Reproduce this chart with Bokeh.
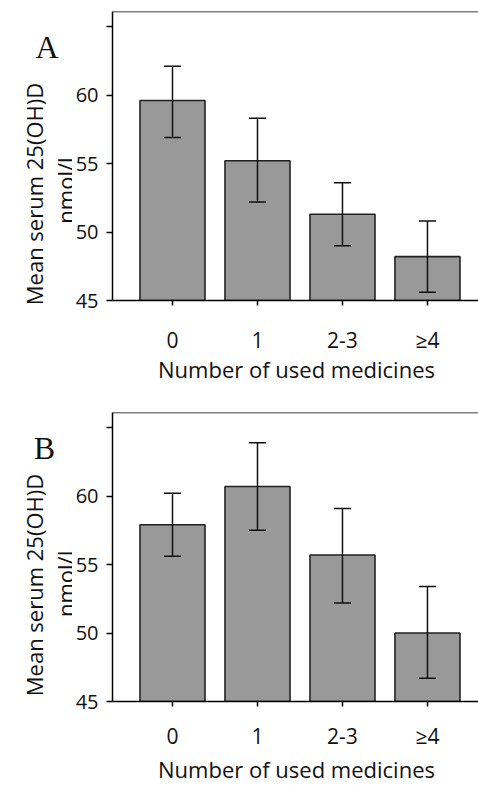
import math
from bokeh.plotting import figure
from bokeh.models import Range1d, FixedTicker, Label, ColumnDataSource, Span
from bokeh.layouts import column, row
from bokeh.embed import file_html
from bokeh.resources import INLINE

categories = ["0", "1", "2-3", "≥4"]
y_ticks = [45, 50, 55, 60, 65]

# Panel A
a_mean = [59.6, 55.2, 51.3, 48.2]
a_low = [56.9, 52.2, 49.0, 45.6]
a_high = [62.1, 58.3, 53.6, 50.8]

# Panel B
b_mean = [57.9, 60.7, 55.7, 50.0]
b_low = [55.6, 57.5, 52.2, 46.7]
b_high = [60.2, 63.9, 59.1, 53.4]

FONT = "Open Sans"
TICK_FS = "20px"
LAB_FS = "22px"
Y_TOP = 66.1
LEFT_W = 72
FRAME_H = 289


def make_panel(means, lows, highs, top_border, bottom_border,
               tick_standoff, label_standoff):
    xs = list(range(len(categories)))
    p = figure(frame_width=368, frame_height=FRAME_H, title=None,
               x_range=Range1d(-0.706, 3.624), y_range=Range1d(45, Y_TOP),
               output_backend="svg", toolbar_location=None,
               min_border_left=110 - LEFT_W, min_border_right=0,
               min_border_top=top_border, min_border_bottom=bottom_border)
    p.xgrid.visible = False
    p.ygrid.visible = False
    p.outline_line_color = None
    p.background_fill_color = "white"
    p.border_fill_color = "white"
    p.add_layout(Span(location=Y_TOP, dimension="width", line_color="black",
                      line_width=1.5))

    src = ColumnDataSource(dict(x=xs, top=means, low=lows, high=highs,
                                cl=[x - 0.1 for x in xs], cr=[x + 0.1 for x in xs]))
    p.vbar(x="x", top="top", bottom=45, width=0.765, source=src,
           fill_color="#999999", line_color="#222222", line_width=1.6)
    p.segment(x0="x", y0="low", x1="x", y1="high", source=src,
              line_color="#111111", line_width=1.5)
    p.segment(x0="cl", y0="high", x1="cr", y1="high", source=src,
              line_color="#111111", line_width=1.5)
    p.segment(x0="cl", y0="low", x1="cr", y1="low", source=src,
              line_color="#111111", line_width=1.5)

    xa = p.xaxis[0]
    xa.ticker = FixedTicker(ticks=xs)
    xa.bounds = (-0.706, 3.85)
    xa.major_label_overrides = {i: c for i, c in enumerate(categories)}
    xa.minor_tick_line_color = None
    xa.major_tick_in = 0
    xa.major_tick_out = 5
    xa.major_tick_line_width = 1.5
    xa.axis_line_width = 1.5
    xa.major_label_standoff = tick_standoff
    xa.major_label_text_font = FONT
    xa.major_label_text_font_size = "21px"
    xa.major_label_text_color = "#111111"
    xa.axis_label = "Number of used medicines"
    xa.axis_label_text_font = FONT
    xa.axis_label_text_font_size = LAB_FS
    xa.axis_label_text_font_style = "normal"
    xa.axis_label_text_color = "#111111"
    xa.axis_label_standoff = label_standoff

    ya = p.yaxis[0]
    ya.ticker = FixedTicker(ticks=y_ticks)
    ya.major_label_overrides = {65: ""}
    ya.minor_tick_line_color = None
    ya.major_tick_in = 0
    ya.major_tick_out = 6
    ya.major_tick_line_width = 1.5
    ya.axis_line_width = 1.5
    ya.major_label_standoff = 8
    ya.major_label_text_font = FONT
    ya.major_label_text_font_size = TICK_FS
    ya.major_label_text_color = "#111111"
    return p


def make_side(height, letter, letter_x, unit, ylab_y, unit_y):
    # labels in screen units: x from the strip's left, y up from its bottom
    s = figure(frame_width=LEFT_W, frame_height=height, title=None,
               x_range=Range1d(0, LEFT_W), y_range=Range1d(0, height),
               output_backend="svg", toolbar_location=None,
               x_axis_location=None, y_axis_location=None,
               min_border=0, outline_line_color=None)
    s.grid.visible = False
    s.add_layout(Label(x=letter_x, y=height - 35, x_units="screen", y_units="screen",
                       text=letter, text_font="Liberation Serif",
                       text_font_size="32px", text_align="center",
                       text_baseline="alphabetic", text_color="#111111"))
    s.add_layout(Label(x=33, y=height - ylab_y, x_units="screen", y_units="screen",
                       text="Mean serum 25(OH)D",
                       text_font=FONT, text_font_size=LAB_FS, angle=math.pi / 2,
                       text_align="center", text_baseline="alphabetic",
                       text_color="#111111"))
    s.add_layout(Label(x=64, y=height - unit_y, x_units="screen", y_units="screen",
                       text=unit, text_font=FONT,
                       text_font_size=LAB_FS, angle=math.pi / 2,
                       text_align="center", text_baseline="alphabetic",
                       text_color="#111111"))
    return s


A_TOP, A_BOT = 11, 100
B_TOP, B_BOT = 12, 70
pA = make_panel(a_mean, a_low, a_high, A_TOP, A_BOT, 20, -3)
pB = make_panel(b_mean, b_low, b_high, B_TOP, B_BOT, 15, 1)
sA = make_side(A_TOP + FRAME_H + A_BOT, "A", 46.5, "nmol/l", 182.5, 179)
sB = make_side(B_TOP + FRAME_H + B_BOT, "B", 44, "nmol/L", 172.5, 168.5)

layout = column(row(sA, pA, spacing=0), row(sB, pB, spacing=0), spacing=0)
open("out.html", "w").write(file_html(layout, INLINE))
